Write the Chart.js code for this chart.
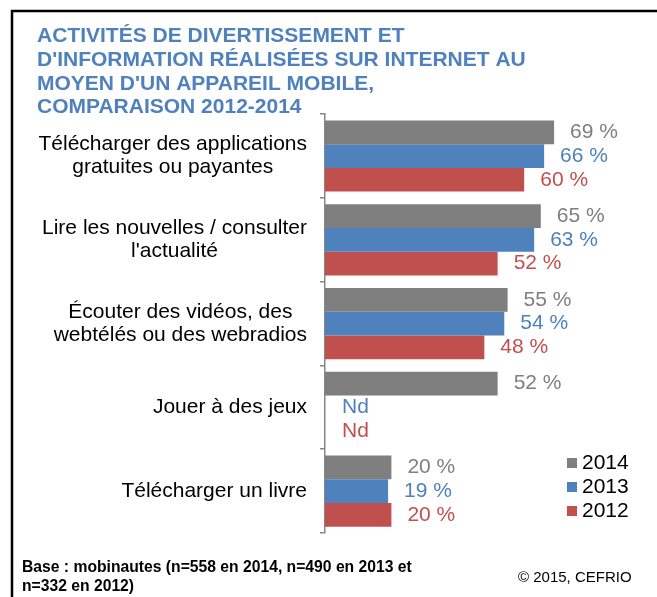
<!DOCTYPE html>
<html>
<head>
<meta charset="utf-8">
<script src="https://cdn.jsdelivr.net/npm/chart.js@4.4.1/dist/chart.umd.min.js"></script>
<style>
  html, body { margin: 0; padding: 0; background: #fff; }
  canvas { display: block; }
</style>
</head>
<body>
<canvas id="activitesChart" width="657" height="597"></canvas>
<script>
const titleLines = [
  "ACTIVITÉS DE DIVERTISSEMENT ET",
  "D'INFORMATION RÉALISÉES SUR INTERNET AU",
  "MOYEN D'UN APPAREIL MOBILE,",
  "COMPARAISON 2012-2014"
];
const categories = [
  ["Télécharger des applications", "gratuites ou payantes"],
  ["Lire les nouvelles / consulter", "l'actualité"],
  ["Écouter des vidéos, des", "webtélés ou des webradios"],
  "Jouer à des jeux",
  "Télécharger un livre"
];
const years = ["2014", "2013", "2012"];
const data2014 = [69, 65, 55, 52, 20];
const data2013 = [66, 63, 54, null, 19];
const data2012 = [60, 52, 48, null, 20];
const barColors = ["#7F7F7F", "#4F81BD", "#C0504D"];
const noteLines = ["Base : mobinautes (n=558 en 2014, n=490 en 2013 et", "n=332 en 2012)"];
const copyright = "© 2015, CEFRIO";

const FONT = "'Liberation Sans', Arial, sans-serif";
const ctx = document.getElementById("activitesChart").getContext("2d");

const activitesChart = new Chart(ctx, {
  type: "bar",
  data: {
    labels: categories,
    datasets: [data2014, data2013, data2012].map((values, i) => ({
      label: years[i],
      data: values,
      backgroundColor: barColors[i],
      borderWidth: 0,
      categoryPercentage: 0.85,
      barPercentage: 1,
    })),
  },
  options: {
    indexAxis: "y",
    responsive: false,
    animation: false,
    layout: {
      padding: { left: 37, right: 0, top: 0, bottom: 64 },
    },
    scales: {
      x: {
        display: false,
        min: 0,
        max: 100,
      },
      y: {
        grid: {
          display: true,
          drawOnChartArea: false,
          drawTicks: true,
          tickLength: 5,
          color: "#868686",
          lineWidth: 1.5,
        },
        border: { display: true, color: "#868686", width: 1.5 },
        ticks: { display: false },
        afterFit: function (scale) {
          scale.width = 288;
        },
      },
    },
    plugins: {
      legend: { display: false },
      tooltip: { enabled: false },
      title: {
        display: true,
        text: titleLines,
        align: "start",
        color: "#4F81BD",
        font: { family: FONT, size: 21, weight: "bold", lineHeight: 1.13 },
        padding: { top: 24.6, bottom: -5.4 },
      },
    },
  },
  plugins: [
    {
      id: "frameAndText",
      beforeDraw: function (chart) {
        const c = chart.ctx;
        c.save();
        c.fillStyle = "#fff";
        c.fillRect(0, 0, chart.width, chart.height);
        // black frame, top and left edges only
        c.strokeStyle = "#000";
        c.lineWidth = 2.5;
        c.beginPath();
        c.moveTo(12, chart.height);
        c.lineTo(12, 11);
        c.lineTo(chart.width, 11);
        c.stroke();
        c.restore();
      },
      afterDraw: function (chart) {
        const c = chart.ctx;
        const xScale = chart.scales.x;
        const yScale = chart.scales.y;
        const area = chart.chartArea;
        c.save();

        // category labels, two-line ones centered on themselves
        c.font = "21px " + FONT;
        c.fillStyle = "#000";
        c.textAlign = "center";
        c.textBaseline = "middle";
        const rightEdge = yScale.right - 18;
        categories.forEach((label, i) => {
          const lines = Array.isArray(label) ? label : [label];
          const widest = Math.max(...lines.map(l => c.measureText(l).width));
          const cx = rightEdge - widest / 2;
          const cy = yScale.getPixelForTick(i);
          const lh = 23;
          lines.forEach((line, k) => {
            c.fillText(line, cx, cy + (k - (lines.length - 1) / 2) * lh);
          });
        });

        // value labels
        c.textAlign = "left";
        chart.data.datasets.forEach((ds, i) => {
          const meta = chart.getDatasetMeta(i);
          c.fillStyle = barColors[i];
          meta.data.forEach((bar, j) => {
            const v = ds.data[j];
            const text = v == null ? "Nd" : v + " %";
            const x = v == null ? xScale.getPixelForValue(0) + 17 : bar.x + 16;
            c.fillText(text, x, bar.y);
          });
        });

        // legend
        const lx = area.right - 90;
        chart.data.datasets.forEach((ds, i) => {
          const ly = area.bottom - 22 - (chart.data.datasets.length - 1 - i) * 24;
          c.fillStyle = ds.backgroundColor;
          c.fillRect(lx, ly - 5, 10, 10);
          c.fillStyle = "#000";
          c.fillText(ds.label, lx + 15, ly);
        });

        // footer
        c.font = "bold 15.7px " + FONT;
        c.fillStyle = "#000";
        noteLines.forEach((line, k) => {
          c.fillText(line, 22, chart.height - 29 + k * 19);
        });
        c.font = "15px " + FONT;
        c.fillText(copyright, 518, chart.height - 19);

        c.restore();
      },
    },
  ],
});
</script>
</body>
</html>
